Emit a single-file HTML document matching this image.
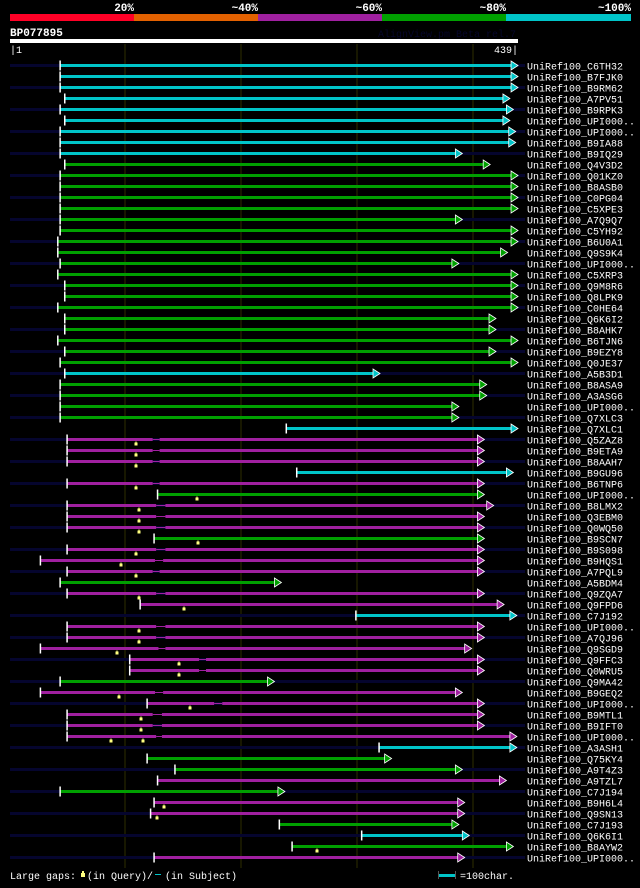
<!DOCTYPE html>
<html><head><meta charset="utf-8"><style>
html,body{margin:0;padding:0;background:#000;}
body{width:640px;height:883px;overflow:hidden;font-family:"Liberation Mono","DejaVu Sans Mono",monospace;}
svg text{font-family:"Liberation Mono","DejaVu Sans Mono",monospace;}
</style></head><body>
<svg id="chart" width="640" height="883" viewBox="0 0 640 883" xmlns="http://www.w3.org/2000/svg">
<rect x="0" y="0" width="640" height="883" fill="#000"/>
<g>
<rect x="10" y="14" width="124" height="7" fill="#ff0026"/>
<rect x="134" y="14" width="124" height="7" fill="#e36100"/>
<rect x="258" y="14" width="124" height="7" fill="#a020a0"/>
<rect x="382" y="14" width="124" height="7" fill="#00a000"/>
<rect x="506" y="14" width="125" height="7" fill="#00c4c8"/>
<text x="134" y="11" fill="#fff" font-size="11" font-weight="bold" text-anchor="end">20%</text>
<text x="258" y="11" fill="#fff" font-size="11" font-weight="bold" text-anchor="end">~40%</text>
<text x="382" y="11" fill="#fff" font-size="11" font-weight="bold" text-anchor="end">~60%</text>
<text x="506" y="11" fill="#fff" font-size="11" font-weight="bold" text-anchor="end">~80%</text>
<text x="631" y="11" fill="#fff" font-size="11" font-weight="bold" text-anchor="end">~100%</text>
</g>
<text x="10" y="36" fill="#fff" font-size="11" font-weight="bold">BP077895</text>
<text x="516" y="37" fill="#06062a" font-size="10" text-anchor="end">AlignView.pm Beta rel.7</text>
<rect x="10" y="39" width="508" height="4" fill="#fff"/>
<text x="10" y="53" fill="#fff" font-size="10">|1</text>
<text x="518" y="53" fill="#fff" font-size="10" text-anchor="end">439|</text>
<g id="grid"></g>
<g id="rows"></g>
<g>
<text x="10" y="879" fill="#fff" font-size="10">Large gaps:</text>
<rect x="81" y="873" width="4" height="4" fill="#ffff80"/><rect x="82" y="871" width="2" height="2" fill="#ffff80"/>
<text x="87" y="879" fill="#fff" font-size="10">(in Query)/</text>
<rect x="155" y="874" width="6" height="1" fill="#00c4c8"/>
<text x="165" y="879" fill="#fff" font-size="10">(in Subject)</text>
<rect x="438" y="874" width="17" height="3" fill="#00c4c8"/>
<rect x="438" y="871" width="1" height="8" fill="#555"/><rect x="455" y="871" width="1" height="8" fill="#555"/>
<text x="460" y="879" fill="#fff" font-size="10">=100char.</text>
</g>
</svg>
<script>
const names=["C6TH32","B7FJK0","B9RM62","A7PV51","B9RPK3","UPI000..","UPI000..","B9IA88","B9IQ29","Q4V3D2","Q01KZ0","B8ASB0","C0PG04","C5XPE3","A7Q9Q7","C5YH92","B6U0A1","Q9S9K4","UPI000..","C5XRP3","Q9M8R6","Q8LPK9","C0HE64","Q6K6I2","B8AHK7","B6TJN6","B9EZY8","Q0JE37","A5B3D1","B8ASA9","A3ASG6","UPI000..","Q7XLC3","Q7XLC1","Q5ZAZ8","B9ETA9","B8AAH7","B9GU96","B6TNP6","UPI000..","B8LMX2","Q3EBM0","Q0WQ50","B9SCN7","B9S098","B9HQS1","A7PQL9","A5BDM4","Q9ZQA7","Q9FPD6","C7J192","UPI000..","A7QJ96","Q9SGD9","Q9FFC3","Q0WRU5","Q9MA42","B9GEQ2","UPI000..","B9MTL1","B9IFT0","UPI000..","A3ASH1","Q75KY4","A9T4Z3","A9TZL7","C7J194","B9H6L4","Q9SN13","C7J193","Q6K6I1","B8AYW2","UPI000.."];
// identity class: c=cyan(~100%), g=green(~80%), p=purple(~60%)
const classes="cccccccccgggggggggggggggggggcggggcpppcpgpppgpppgppcpppppgpppppcggpgppgcgp".split("");
const startRes=[44,44,44,48,44,48,44,44,44,48,44,44,44,44,44,44,42,42,44,42,48,48,42,48,48,42,48,44,48,44,44,44,44,239,50,50,50,248,50,128,50,50,50,125,50,27,50,44,50,113,299,50,50,27,104,104,44,27,119,50,50,50,319,119,143,128,44,125,122,233,304,244,125];
const endRes=[433,433,433,426,429,426,431,431,385,409,433,433,433,433,385,433,433,424,382,433,433,433,433,414,414,433,414,433,314,406,406,382,382,433,404,404,404,429,404,404,412,404,404,404,404,404,404,229,404,421,432,404,404,393,404,404,223,385,404,404,404,432,432,324,385,423,232,387,387,382,391,429,387];
// large gaps in query (residue positions)
const qgapRow=[34,35,36,38,39,40,41,42,43,44,45,46,48,49,51,52,53,54,55,57,58,59,60,61,61,67,68,71];
const qgapRes=[110,110,110,110,162,112,112,112,163,110,97,110,112,151,112,112,93,147,147,95,156,114,114,88,116,134,128,266];
// gaps in subject (residue ranges)
const sgapRow=[34,35,36,38,40,41,42,44,45,46,48,51,52,53,54,55,57,58,59,60,61];
const sgapFrom=[124,124,124,124,127,127,127,127,126,124,127,127,127,129,164,164,126,177,124,124,127];
const sgapTo=[130,130,130,130,135,135,135,135,133,130,135,135,135,135,170,170,133,184,132,132,132];
const colors={c:"#00c4c8",g:"#00a000",p:"#a020a0"};
const NS="http://www.w3.org/2000/svg";
const x0=10,x1=518,L=439;
const xs=r=>x0+(r-1)*(x1-x0)/(L-1);
const rowY=i=>65.5+11*i;
function mk(tag,attrs,parent){const e=document.createElementNS(NS,tag);for(const k in attrs)e.setAttribute(k,attrs[k]);parent.appendChild(e);return e;}
const grid=document.getElementById('grid');
[100,200,300,400].forEach(r=>{
  const l=mk('rect',{x:Math.round(xs(r))-0.5,y:44,width:1,height:824,fill:"#2e2e00"},grid);
  
  
});
const rows=document.getElementById('rows');
names.forEach((n,i)=>{
  const y=rowY(i);
  const g=mk('g',{},rows);
  
  
  const bg=(i%2===0)?"#05052e":"#000";
  if(i%2===0){mk('rect',{x:10,y:y-1.5,width:515,height:3,fill:bg},g);}
  const sx=xs(startRes[i]),ex=xs(endRes[i]),col=colors[classes[i]];
  const bar=mk('rect',{x:sx,y:y-1.5,width:ex-sx,height:3,fill:col},g);
  
  
  sgapRow.forEach((ri,k)=>{
    if(ri!==i) return;
    const a=xs(sgapFrom[k]),b=xs(sgapTo[k]);
    mk('rect',{x:a,y:y-1.5,width:b-a,height:3,fill:bg},g);
    mk('rect',{x:a,y:y-0.5,width:b-a,height:1,fill:col},g);
  });
  mk('rect',{x:sx-0.5,y:y-5,width:1.5,height:10,fill:"#fff"},g);
  mk('polygon',{points:`${ex},${y-4.5} ${ex+7},${y} ${ex},${y+4.5}`,fill:col,stroke:"#fff","stroke-width":0.8},g);
  const t=mk('text',{x:527,y:y+4,fill:"#fff","font-size":10},g);
  t.textContent="UniRef100_"+n;
  
  
});
qgapRow.forEach((ri,k)=>{
  const x=Math.round(xs(qgapRes[k])),y=rowY(ri);
  const m=mk('g',{},rows);
  
  
  mk('rect',{x:x-1.5,y:y+3,width:3,height:3,fill:"#ffff80"},m);
  mk('rect',{x:x-0.5,y:y+2,width:1,height:1,fill:"#ffff80"},m);
});
</script>
</body></html>
